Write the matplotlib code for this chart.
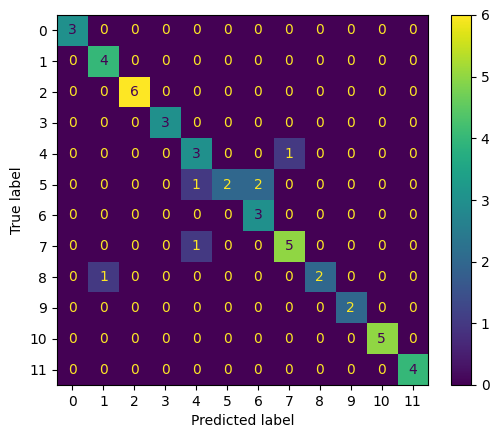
import numpy as np
import matplotlib.pyplot as plt

labels = [str(i) for i in range(12)]

# confusion matrix
cm = np.array([
    [3, 0, 0, 0, 0, 0, 0, 0, 0, 0, 0, 0],
    [0, 4, 0, 0, 0, 0, 0, 0, 0, 0, 0, 0],
    [0, 0, 6, 0, 0, 0, 0, 0, 0, 0, 0, 0],
    [0, 0, 0, 3, 0, 0, 0, 0, 0, 0, 0, 0],
    [0, 0, 0, 0, 3, 0, 0, 1, 0, 0, 0, 0],
    [0, 0, 0, 0, 1, 2, 2, 0, 0, 0, 0, 0],
    [0, 0, 0, 0, 0, 0, 3, 0, 0, 0, 0, 0],
    [0, 0, 0, 0, 1, 0, 0, 5, 0, 0, 0, 0],
    [0, 1, 0, 0, 0, 0, 0, 0, 2, 0, 0, 0],
    [0, 0, 0, 0, 0, 0, 0, 0, 0, 2, 0, 0],
    [0, 0, 0, 0, 0, 0, 0, 0, 0, 0, 5, 0],
    [0, 0, 0, 0, 0, 0, 0, 0, 0, 0, 0, 4],
])

W, H = 498, 438
fig = plt.figure(figsize=(W / 100, H / 100), dpi=100)
ax = fig.add_axes([57 / W, (H - 385) / H, 371 / W, 370 / H])
cax = fig.add_axes([451 / W, (H - 385) / H, 20 / W, 370 / H])

cmap = plt.get_cmap('viridis')
im = ax.imshow(cm, cmap=cmap, interpolation='nearest', aspect='auto')
fig.colorbar(im, cax=cax)

# text colour like sklearn: dark on high cells, yellow on low
thresh = (cm.max() + cm.min()) / 2.0
for i in range(cm.shape[0]):
    for j in range(cm.shape[1]):
        color = cmap(0) if cm[i, j] >= thresh else cmap(1.0)
        ax.text(j, i, str(cm[i, j]), ha='center', va='center', color=color)

ax.set_xticks(range(len(labels)))
ax.set_xticklabels(labels)
ax.set_yticks(range(len(labels)))
ax.set_yticklabels(labels)
ax.set_xlabel('Predicted label')
ax.set_ylabel('True label')

fig.savefig('out.png', dpi=100)
